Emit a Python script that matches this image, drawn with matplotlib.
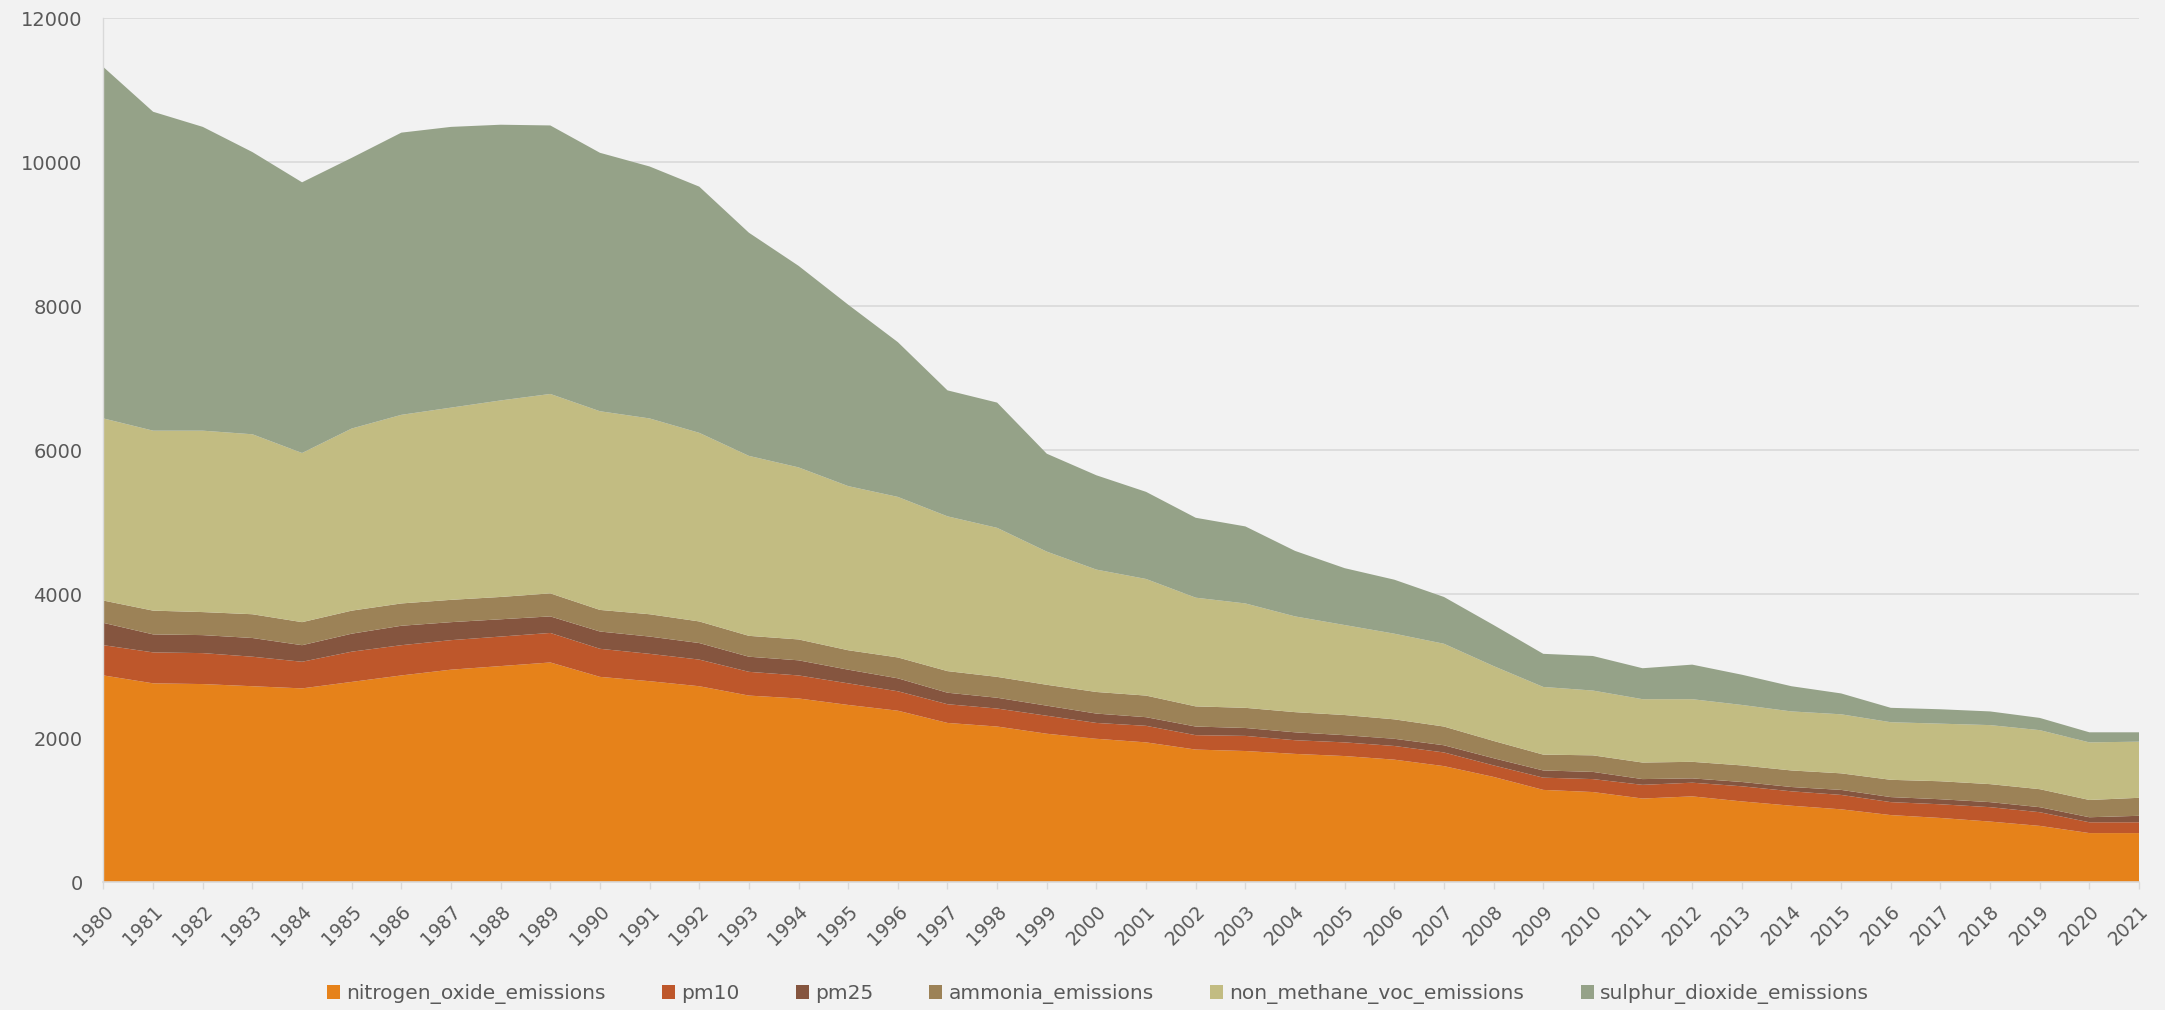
import matplotlib.pyplot as plt
import numpy as np

years = list(range(1980, 2022))

nitrogen_oxide = [2870, 2760, 2750, 2720, 2690, 2780, 2870, 2950, 3000, 3050,
                  2850, 2790, 2720, 2590, 2550, 2460, 2380, 2210, 2160, 2060,
                  1990, 1940, 1840, 1820, 1780, 1750, 1700, 1610, 1460, 1280,
                  1250, 1160, 1190, 1120, 1060, 1010, 930, 890, 840, 780,
                  680, 680]
pm10 = [420, 430, 430, 410, 370, 420, 420, 410, 410, 410,
        390, 380, 370, 330, 320, 300, 270, 260, 250, 250,
        220, 230, 200, 210, 190, 190, 190, 190, 160, 170,
        180, 190, 190, 210, 200, 200, 180, 190, 200, 190,
        150, 150]
pm25 = [310, 250, 250, 260, 230, 250, 270, 250, 240, 230,
        240, 240, 230, 210, 210, 190, 180, 160, 150, 140,
        130, 120, 120, 110, 110, 100, 100, 100, 100, 100,
        100, 80, 60, 60, 60, 70, 70, 70, 70, 70,
        70, 90]
ammonia = [310, 330, 320, 330, 320, 320, 310, 310, 310, 320,
           300, 310, 300, 290, 290, 270, 290, 300, 290, 290,
           300, 300, 280, 280, 280, 280, 270, 260, 240, 220,
           230, 230, 230, 230, 230, 230, 240, 250, 250, 250,
           240, 250]
non_methane_voc = [2530, 2500, 2520, 2500, 2350, 2530, 2620, 2670, 2730, 2770,
                   2760, 2720, 2620, 2500, 2390, 2280, 2230, 2150, 2070, 1850,
                   1700, 1620, 1510, 1450, 1330, 1250, 1190, 1150, 1040, 940,
                   900, 880, 870, 840, 820, 820, 800, 800, 820, 820,
                   800, 780]
sulphur_dioxide = [4880, 4430, 4220, 3920, 3760, 3760, 3920, 3900, 3830, 3730,
                   3590, 3500, 3420, 3100, 2800, 2520, 2150, 1750, 1740, 1360,
                   1310, 1210, 1110, 1070, 910, 790, 750, 650, 570, 460,
                   480, 430, 480, 420, 350, 290, 200, 200, 190, 170,
                   140, 130]

labels = ['nitrogen_oxide_emissions', 'pm10', 'pm25', 'ammonia_emissions',
          'non_methane_voc_emissions', 'sulphur_dioxide_emissions']
colors = ['#E6821A', '#BE572B', '#85553F', '#9C8257', '#C2BC82', '#95A288']

bg = '#F2F2F2'
fig = plt.figure(figsize=(21.65, 10.1), dpi=100, facecolor=bg)
ax = fig.add_axes([0.0478, 0.1267, 0.9402, 0.8553])
ax.set_facecolor(bg)

ax.stackplot(years, nitrogen_oxide, pm10, pm25, ammonia, non_methane_voc,
             sulphur_dioxide, labels=labels, colors=colors, linewidth=0, zorder=2)

ax.set_xlim(1980, 2021)
ax.set_ylim(0, 12000)
ax.set_yticks(np.arange(0, 12001, 2000))
ax.set_xticks(years)
ax.set_xticklabels([str(y) for y in years], rotation=45, ha='right',
                   rotation_mode='anchor')

ax.grid(axis='y', color='#D9D9D9', linewidth=1.2, zorder=0)
ax.set_axisbelow(True)
for s in ['top', 'right']:
    ax.spines[s].set_visible(False)
ax.spines['left'].set_color('#D9D9D9')
ax.spines['bottom'].set_color('#D9D9D9')
ax.spines['bottom'].set_linewidth(1.2)
ax.spines['left'].set_linewidth(1.0)

ax.tick_params(axis='y', length=0, pad=15, labelsize=14, labelcolor='#595959')
ax.tick_params(axis='x', length=5, width=1, color='#D9D9D9', pad=9,
               labelsize=13.5, labelcolor='#595959')

leg = fig.legend(loc='lower center', bbox_to_anchor=(0.507, -0.012), ncol=6,
                 frameon=False, fontsize=14.5, labelcolor='#595959',
                 handlelength=0.65, handleheight=0.65, handletextpad=0.3,
                 columnspacing=2.8)

fig.savefig('out.png', dpi=100, facecolor=bg)
